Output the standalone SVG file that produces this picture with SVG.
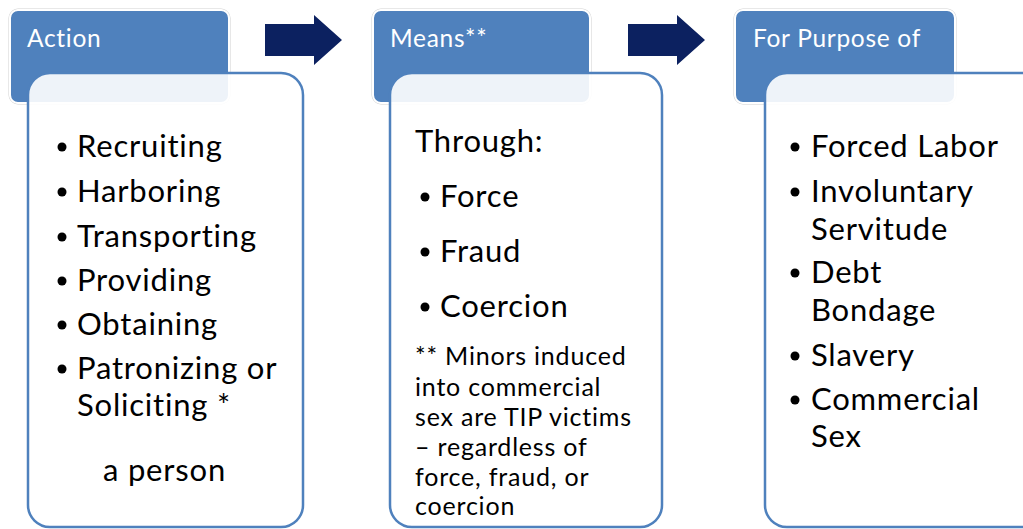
<svg xmlns="http://www.w3.org/2000/svg" width="1023" height="529" viewBox="0 0 1023 529">
  <style>
    .hdr { fill: #4F81BD; stroke: #FFFFFF; stroke-width: 2; }
    .hdr-edge { fill: none; stroke: #D0D0D0; stroke-width: 1; }
    .card { fill: #FFFFFF; fill-opacity: 0.9; stroke: #4F81BD; stroke-width: 2.5; }
    .htxt { font-family: Lato, "Liberation Sans", sans-serif; font-size: 24.5px; letter-spacing: 0.7px; fill: #FFFFFF; }
    .btxt { font-family: Lato, "Liberation Sans", sans-serif; font-size: 31px; letter-spacing: 0.8px; fill: #000000; }
    .ntxt { font-family: Lato, "Liberation Sans", sans-serif; font-size: 25px; letter-spacing: 0.8px; fill: #000000; }
    .dot { fill: #000000; }
    .arrow { fill: #0C2160; }
  </style>

  <rect width="1023" height="529" fill="#FFFFFF"/>

  <!-- flow arrows between the three columns -->
  <g id="connectors">
    <path class="arrow" d="M265,24 H314 V15 L342,40 L314,65 V56 H265 Z"/>
    <path class="arrow" d="M628,24 H677 V15 L705,40 L677,65 V56 H628 Z"/>
  </g>

  <!-- column 1: Action -->
  <g id="action">
    <rect class="hdr-edge" x="9" y="9" width="221" height="95" rx="9"/>
    <rect class="hdr" x="10" y="10" width="219" height="93" rx="8"/>
    <text class="htxt" x="27" y="47">Action</text>
    <rect class="card" x="28" y="73" width="275" height="454" rx="22"/>
    <g class="btxt">
      <circle class="dot" cx="62" cy="147" r="4.5"/>
      <text x="77" y="157">Recruiting</text>
      <circle class="dot" cx="62" cy="192" r="4.5"/>
      <text x="77" y="202">Harboring</text>
      <circle class="dot" cx="62" cy="237" r="4.5"/>
      <text x="77" y="247">Transporting</text>
      <circle class="dot" cx="62" cy="281" r="4.5"/>
      <text x="77" y="291">Providing</text>
      <circle class="dot" cx="62" cy="325" r="4.5"/>
      <text x="77" y="335">Obtaining</text>
      <circle class="dot" cx="62" cy="369" r="4.5"/>
      <text x="77" y="379">Patronizing or</text>
      <text x="77" y="416">Soliciting *</text>
      <text x="103" y="481">a person</text>
    </g>
  </g>

  <!-- column 2: Means -->
  <g id="means">
    <rect class="hdr-edge" x="372" y="9" width="219" height="95" rx="9"/>
    <rect class="hdr" x="373" y="10" width="217" height="93" rx="8"/>
    <text class="htxt" x="390" y="47">Means**</text>
    <rect class="card" x="390" y="73" width="272" height="454" rx="22"/>
    <g class="btxt">
      <text x="415" y="152">Through:</text>
      <circle class="dot" cx="425" cy="197" r="4.5"/>
      <text x="440" y="207">Force</text>
      <circle class="dot" cx="425" cy="252" r="4.5"/>
      <text x="440" y="262">Fraud</text>
      <circle class="dot" cx="425" cy="307" r="4.5"/>
      <text x="440" y="317">Coercion</text>
    </g>
    <g class="ntxt">
      <text x="415" y="365">** Minors induced</text>
      <text x="415" y="396">into commercial</text>
      <text x="415" y="426">sex are TIP victims</text>
      <text x="415" y="456">– regardless of</text>
      <text x="415" y="486">force, fraud, or</text>
      <text x="415" y="515">coercion</text>
    </g>
  </g>

  <!-- column 3: For Purpose of -->
  <g id="purpose">
    <rect class="hdr-edge" x="734" y="9" width="222" height="95" rx="9"/>
    <rect class="hdr" x="735" y="10" width="220" height="93" rx="8"/>
    <text class="htxt" x="753" y="47">For Purpose of</text>
    <rect class="card" x="765" y="73" width="280" height="454" rx="22"/>
    <g class="btxt">
      <circle class="dot" cx="795" cy="147" r="4.5"/>
      <text x="811" y="157">Forced Labor</text>
      <circle class="dot" cx="795" cy="192" r="4.5"/>
      <text x="811" y="202">Involuntary</text>
      <text x="811" y="240">Servitude</text>
      <circle class="dot" cx="795" cy="273" r="4.5"/>
      <text x="811" y="283">Debt</text>
      <text x="811" y="321">Bondage</text>
      <circle class="dot" cx="795" cy="356" r="4.5"/>
      <text x="811" y="366">Slavery</text>
      <circle class="dot" cx="795" cy="400" r="4.5"/>
      <text x="811" y="410">Commercial</text>
      <text x="811" y="447">Sex</text>
    </g>
  </g>
</svg>
